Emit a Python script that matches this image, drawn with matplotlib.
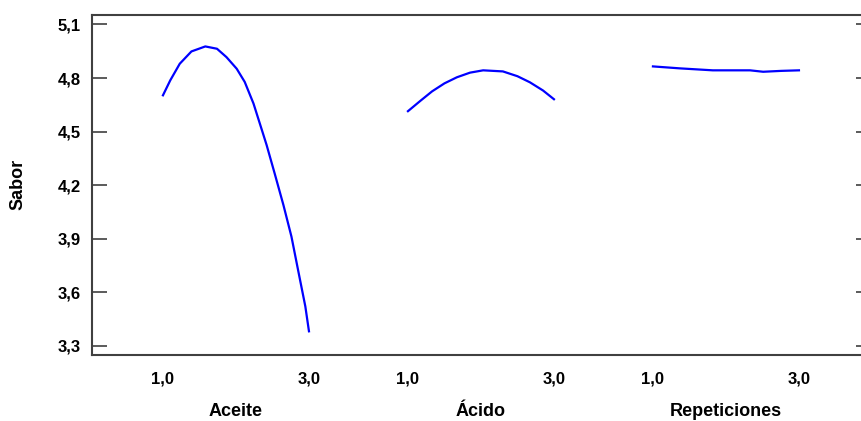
import matplotlib
matplotlib.use('Agg')
import matplotlib.pyplot as plt
import matplotlib.transforms as mtransforms

plt.rcParams['font.family'] = ['Liberation Sans', 'DejaVu Sans']
plt.rcParams['font.weight'] = 'bold'

factors = ['Aceite', 'Ácido', 'Repeticiones']
# curvas (nivel, sabor)
aceite_x = [1.0, 1.10, 1.23, 1.39, 1.58, 1.74, 1.87, 2.01, 2.12, 2.24, 2.37, 2.42,
            2.53, 2.65, 2.76, 2.85, 2.95, 3.0]
aceite_y = [4.703, 4.787, 4.880, 4.949, 4.977, 4.964, 4.917, 4.852, 4.778, 4.657,
            4.489, 4.424, 4.265, 4.088, 3.911, 3.725, 3.520, 3.380]
acido_x = [1.0, 1.17, 1.33, 1.50, 1.67, 1.85, 2.03, 2.30, 2.50, 2.67, 2.85, 3.0]
acido_y = [4.614, 4.672, 4.725, 4.770, 4.804, 4.830, 4.843, 4.837, 4.810, 4.776, 4.730, 4.681]
rep_x = [1.0, 1.37, 1.82, 2.33, 2.51, 2.76, 3.0]
rep_y = [4.865, 4.854, 4.843, 4.843, 4.835, 4.840, 4.843]
yticks = [3.3, 3.6, 3.9, 4.2, 4.5, 4.8, 5.1]
xlevels = [1.0, 3.0]

curves = [(aceite_x, aceite_y), (acido_x, acido_y), (rep_x, rep_y)]
gap = 3.356  # separacion entre factores en unidades del eje

fig = plt.figure(figsize=(8.62, 4.21), dpi=100)
ax = fig.add_axes([91.5/862, 1-354.5/421, (871-91.5)/862, (354.5-14.5)/421])

for i, (xs, ys) in enumerate(curves):
    ax.plot([x + i*gap for x in xs], ys, color='#0000ff', lw=1.6)

ax.set_xlim(0.021, 10.699)
ax.set_ylim(3.25, 5.156)
ax.set_yticks(yticks)
ax.set_yticklabels([('%.1f' % v).replace('.', ',') for v in yticks])

xt, xl = [], []
for i in range(len(factors)):
    for lv in xlevels:
        xt.append(lv + i*gap)
        xl.append(('%.1f' % lv).replace('.', ','))
ax.set_xticks(xt)
ax.set_xticklabels(xl)
ax.tick_params(axis='x', length=0, pad=12.5, labelsize=12)
ax.tick_params(axis='y', direction='in', length=11, width=1.2, color='#404040',
               pad=8, labelsize=12, right=True)

trans = mtransforms.blended_transform_factory(ax.transData, fig.transFigure)
for i, name in enumerate(factors):
    ax.text(2.0 + i*gap, 1-412/421, name, transform=trans, ha='center', va='center',
            fontsize=13, fontweight='bold')

fig.text(18/862, 1-184.5/421, 'Sabor', rotation=90, ha='center', va='center',
         fontsize=13, fontweight='bold')

for s in ax.spines.values():
    s.set_color('#404040')
    s.set_linewidth(1.5)

fig.savefig('out.png', dpi=100)
